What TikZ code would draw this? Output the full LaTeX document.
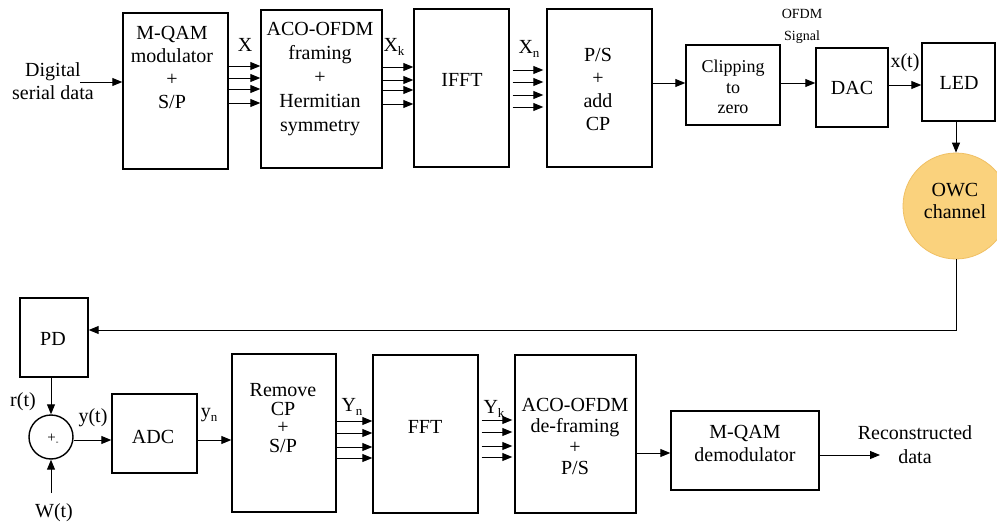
\documentclass[tikz,border=0pt]{standalone}
\usepackage{fontspec}
\setmainfont{Liberation Serif}
\newfontfamily\tnr{Liberation Serif}
\usetikzlibrary{arrows.meta}
\definecolor{owcfill}{RGB}{250,210,125}
\definecolor{owcdraw}{RGB}{240,192,100}
\newcommand{\mysub}[1]{\raisebox{-4pt}{\fontsize{13}{13}\selectfont #1}}
\newcommand{\fs}[2]{\tnr\fontsize{#1}{#2}\selectfont}
\begin{document}
\begin{tikzpicture}[x=1pt,y=-1pt,
  box/.style={draw=black, line width=1.4pt, rectangle, inner sep=0pt},
  txt/.style={inner sep=0pt, align=center, font=\fs{20}{23}},
  arr/.style={line width=1pt, -{Triangle[length=10pt,width=8pt]}}]
\useasboundingbox (0,0) rectangle (997,522);
\fill[white] (0,0) rectangle (997,522);

% ---------- top row boxes
\node[box, minimum width=105pt, minimum height=156pt] (mqam) at (175.5,91) {};
\node[box, minimum width=121pt, minimum height=158pt] (aco) at (321.5,89) {};
\node[box, minimum width=95pt, minimum height=158pt] (ifft) at (461.5,88) {};
\node[box, minimum width=105pt, minimum height=158pt] (ps) at (599.5,88) {};
\node[box, minimum width=94pt, minimum height=80pt] (clip) at (733,85) {};
\node[box, minimum width=72pt, minimum height=79pt] (dac) at (852,87.5) {};
\node[box, minimum width=73pt, minimum height=78pt] (led) at (958.5,82) {};
\node[circle, fill=owcfill, draw=owcdraw, line width=0.8pt, minimum size=106pt, inner sep=0pt] (owc) at (956,206) {};

% ---------- bottom row boxes
\node[box, minimum width=68pt, minimum height=79pt] (pd) at (54,337.5) {};
\node[circle, draw=black, line width=1.4pt, minimum size=44pt, inner sep=0pt] (sum) at (51,437) {};
\node[box, minimum width=85pt, minimum height=79pt] (adc) at (154.5,433.5) {};
\node[box, minimum width=104pt, minimum height=158pt] (remove) at (284,433) {};
\node[box, minimum width=105pt, minimum height=158pt] (fft) at (425.5,434) {};
\node[box, minimum width=121pt, minimum height=158pt] (deframe) at (575.5,434) {};
\node[box, minimum width=148pt, minimum height=79pt] (demod) at (745,450.5) {};

% ---------- box texts
\node[txt] (tmqam) at (172,67.5) {M-QAM\\modulator\\+\\S/P};
\node[txt, font=\fs{20}{24}] (taco) at (320,79.5) {ACO-OFDM\\framing\\+\\Hermitian\\symmetry};
\node[txt] (tifft) at (462,80) {IFFT};
\node[txt] (tps) at (598,89) {P/S\\+\\add\\CP};
\node[txt, font=\fs{18}{20.5}] (tclip) at (733,87) {Clipping\\to\\zero};
\node[txt] (tdac) at (852,88) {DAC};
\node[txt] (tled) at (959,83) {LED};
\node[txt, font=\fs{20}{22}] (towc) at (955,201) {OWC\\channel};
\node[txt] (tpd) at (53,339) {PD};
\node[txt, font=\fs{15}{15}] (tsum) at (53,439) {+\raisebox{-2pt}{\fontsize{8}{8}\selectfont -}};
\node[txt] (tadc) at (153,437) {ADC};
\node[txt, font=\fs{20}{18.5}] (tremove) at (283,418) {Remove\\CP\\+\\S/P};
\node[txt] (tfft) at (425,427) {FFT};
\node[txt, font=\fs{20}{21}] (tdeframe) at (575,436.5) {ACO-OFDM\\de-framing\\+\\P/S};
\node[txt] (tdemod) at (745,443.5) {M-QAM\\demodulator};

% ---------- free labels
\node[txt] (ldigital) at (53,81.5) {Digital\\serial data};
\node[txt] (lx) at (245,45) {X};
\node[txt] (lxk) at (394,47) {X\mysub{k}};
\node[txt] (lxn) at (529,49) {X\mysub{n}};
\node[txt, font=\fs{14}{22}] (lofdm) at (802,26) {OFDM\\Signal};
\node[txt] (lxt) at (905,63) {x(t)};
\node[txt] (lrt) at (23,402) {r(t)};
\node[txt] (lyt) at (93,418) {y(t)};
\node[txt] (lwt) at (54,513) {W(t)};
\node[txt] (lyn) at (209,415) {y\mysub{n}};
\node[txt] (lYn) at (352,407) {Y\mysub{n}};
\node[txt] (lYk) at (494,409) {Y\mysub{k}};
\node[txt, font=\fs{20}{24}] (lrec) at (915,445) {Reconstructed\\data};

% ---------- top connectors
\coordinate (din) at (80,82);
\draw[arr] (din) -- (mqam.west |- din);
\foreach \y in {66,78,89,103}{\coordinate (h) at (0,\y); \draw[arr] (mqam.east |- h) -- (aco.west |- h);}
\foreach \y in {67,80,90,104}{\coordinate (h) at (0,\y); \draw[arr] (aco.east |- h) -- (ifft.west |- h);}
\foreach \y in {70,82,95,107}{\coordinate (h) at (0,\y); \draw[arr] ([xshift=3pt]ifft.east |- h) -- ([xshift=-3pt]ps.west |- h);}
\coordinate (r1) at (0,83);
\draw[arr] (ps.east |- r1) -- (clip.west |- r1);
\draw[arr] (clip.east |- r1) -- (dac.west |- r1);
\coordinate (r2) at (0,85);
\draw[arr] (dac.east |- r2) -- (led.west |- r2);
\draw[arr] (owc.north |- led.south) -- (owc.north);
\coordinate (fb) at (0,330);
\draw[arr] (owc.south) |- (pd.east |- fb);

% ---------- bottom connectors
\draw[arr] (sum.north |- pd.south) -- (sum.north);
\coordinate (win) at (51,493);
\draw[arr] (win) -- (sum.south);
\coordinate (r3) at (0,440);
\draw[arr] (sum.east |- r3) -- (adc.west |- r3);
\draw[arr] (adc.east |- r3) -- (remove.west |- r3);
\foreach \y in {421,433,447,458}{\coordinate (h) at (0,\y); \draw[arr] (remove.east |- h) -- (fft.west |- h);}
\foreach \y in {420,432,446,457}{\coordinate (h) at (0,\y); \draw[arr] ([xshift=3pt]fft.east |- h) -- ([xshift=-2pt]deframe.west |- h);}
\coordinate (r4) at (0,453);
\draw[arr] (deframe.east |- r4) -- (demod.west |- r4);
\coordinate (dout) at (880,455);
\draw[arr] (demod.east |- dout) -- (dout);
\end{tikzpicture}
\end{document}
